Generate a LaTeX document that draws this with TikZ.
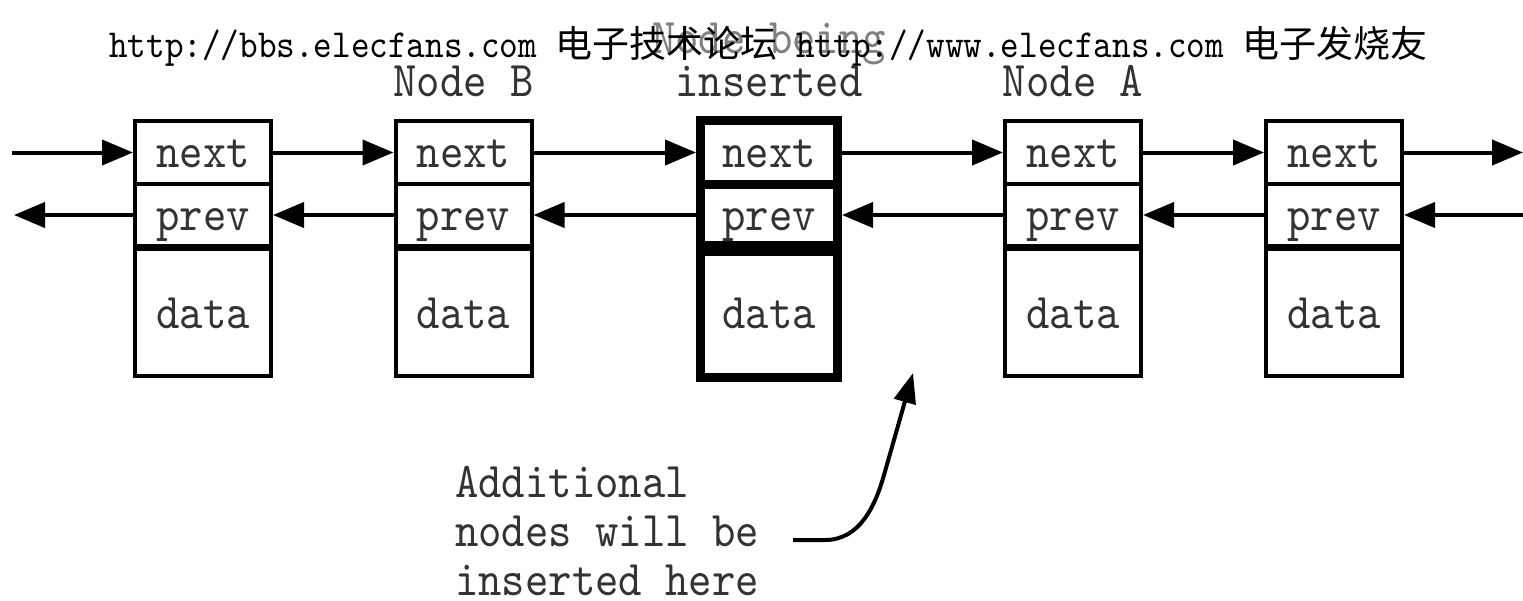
\documentclass[tikz,border=0pt]{standalone}
\usepackage{fontspec}
\newfontfamily\mono[FakeStretch=0.89]{lmmono10-regular.otf}
\newfontfamily\cjk{Noto Sans CJK SC}
\usetikzlibrary{arrows.meta}
\begin{document}
\begin{tikzpicture}[x=1pt,y=-1pt,
  cell/.style={draw, line width=4pt, inner sep=0pt, minimum width=136pt},
  boldcell/.style={draw, line width=9pt, inner sep=0pt, minimum width=137pt},
  txt/.style={font=\fontsize{50}{50}\mono, text=black!80, anchor=base, inner sep=0pt},
  link/.style={line width=4pt, -{Triangle[length=31pt,width=25pt]}},
  curvelink/.style={line width=4pt, -{Triangle[length=30pt,width=22pt]}},
]
\useasboundingbox (0,0) rectangle (1523,600);

% thin boxes
\foreach \i/\x in {1/203,2/463.5,4/1073,5/1334}{
  \node[cell, minimum height=63pt] (n\i) at (\x,152.5) {};
  \node[cell, minimum height=62pt] (p\i) at (\x,215) {};
  \node[cell, minimum height=127pt] (d\i) at (\x,312.5) {};
  \node[txt] (tn\i) at (\x,167) {next};
  \node[txt] (tp\i) at (\x,230) {prev};
  \node[txt] (td\i) at (\x,328) {data};
}
% bold box (node being inserted)
\node[boldcell, minimum height=64pt] (n3) at (769,152.5) {};
\node[boldcell, minimum height=61pt] (p3) at (769,215) {};
\node[boldcell, minimum height=126pt] (d3) at (769,314.5) {};
\node[txt] (tn3) at (769,167) {next};
\node[txt] (tp3) at (769,230) {prev};
\node[txt] (td3) at (769,328) {data};

% free ends
\coordinate (L1) at (12,152.5);
\coordinate (L2) at (14,215);
\coordinate (R1) at (1523,152.5);
\coordinate (R2) at (1523,215);

% next links
\draw[link] (L1) -- (n1.west);
\draw[link] (n1.east) -- (n2.west);
\draw[link] (n2.east) -- (n3.west);
\draw[link] (n3.east) -- (n4.west);
\draw[link] (n4.east) -- (n5.west);
\draw[link] (n5.east) -- (R1);
% prev links
\draw[link] (p1.west) -- (L2);
\draw[link] (p2.west) -- (p1.east);
\draw[link] (p3.west) -- (p2.east);
\draw[link] (p4.west) -- (p3.east);
\draw[link] (p5.west) -- (p4.east);
\draw[link] (R2) -- (p5.east);

% labels
\node[txt] (lb) at (463.5,96) {Node B};
\node[txt, text=black!50] (li1) at (769,53) {Node being};
\node[txt] (li2) at (769,96) {inserted};
\node[txt] (la) at (1073,96) {Node A};

% header watermark
\node[anchor=base, inner sep=0pt] (hdr) at (768.5,57)
  {\fontsize{39.8}{40}\mono http://bbs.elecfans.com {\fontsize{37}{37}\cjk 电子技术论坛} http://www.elecfans.com {\fontsize{37}{37}\cjk 电子发烧友}};

% annotation
\node[txt, anchor=base west] (a1) at (455,497) {Additional};
\node[txt, anchor=base west] (a2) at (455,546) {nodes will be};
\node[txt, anchor=base west] (a3) at (455,595) {inserted here};
\coordinate (cs) at (793,540);
\coordinate (ce) at (913,373);
\draw[curvelink] (cs) -- (825,540) .. controls (860,540) and (875.3,505.6) .. (884,475) -- (ce);
\end{tikzpicture}
\end{document}
